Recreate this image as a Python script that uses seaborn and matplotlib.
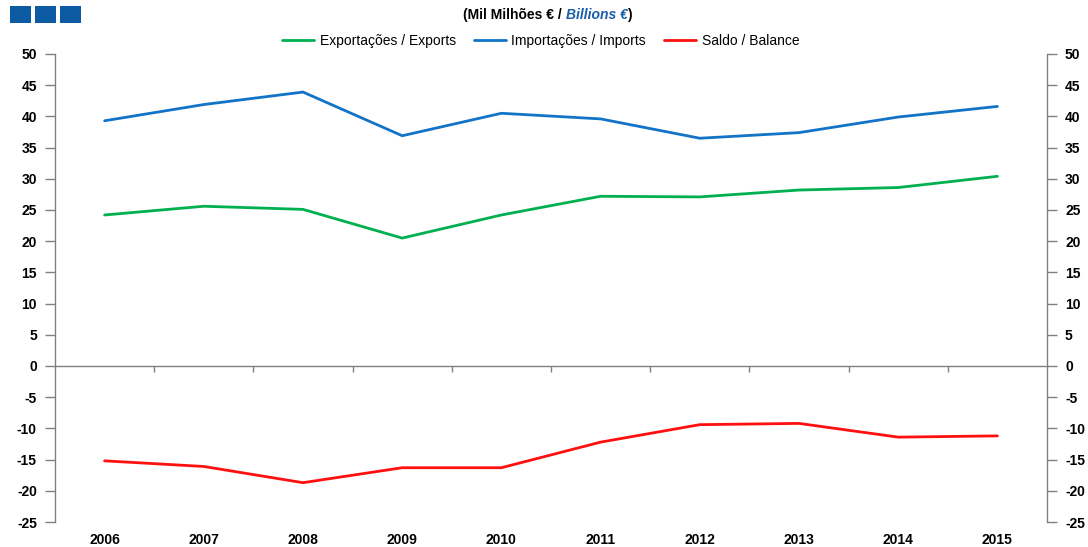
import pandas as pd
import matplotlib.pyplot as plt
import seaborn as sns
from matplotlib.patches import Rectangle

# Dados
years = [2006, 2007, 2008, 2009, 2010, 2011, 2012, 2013, 2014, 2015]
exports = [24.2, 25.6, 25.1, 20.5, 24.2, 27.2, 27.1, 28.2, 28.6, 30.4]
imports = [39.3, 41.9, 43.9, 36.9, 40.5, 39.6, 36.5, 37.4, 39.9, 41.6]
balance = [-15.2, -16.1, -18.7, -16.3, -16.3, -12.2, -9.4, -9.2, -11.4, -11.2]
labels = ['Exportações / Exports', 'Importações / Imports', 'Saldo / Balance']
colors = ['#00b050', '#1273c7', '#ff1010']
yticks = list(range(-25, 55, 5))

df = pd.DataFrame({'Ano': years * 3,
                   'Valor': exports + imports + balance,
                   'Serie': [labels[0]] * 10 + [labels[1]] * 10 + [labels[2]] * 10})

sns.set_style('white')
plt.rcParams['font.family'] = ['Liberation Sans', 'DejaVu Sans']
plt.rcParams['axes.unicode_minus'] = False
plt.rcParams['text.color'] = 'black'
plt.rcParams['xtick.color'] = 'black'
plt.rcParams['ytick.color'] = 'black'

fig = plt.figure(figsize=(10.88, 5.47), dpi=100)
ax = fig.add_axes([55 / 1088, 1 - 522 / 547, 992 / 1088, 468 / 547])

sns.lineplot(data=df, x='Ano', y='Valor', hue='Serie', hue_order=labels,
             palette=colors, linewidth=2, ax=ax, legend=True)

grey = '#808080'
ax.set_xlim(years[0] - 0.5, years[-1] + 0.5)
ax.set_ylim(-25, 50)
ax.set_yticks(yticks)
ax.set_xticks(years)
ax.set_xticklabels([str(y) for y in years], fontsize=10, fontweight='bold')
ax.set_xlabel('')
ax.set_ylabel('')
ax.tick_params(axis='x', length=0, pad=8, labelcolor='black')
ax.tick_params(axis='y', left=True, right=True, labelleft=True, labelright=True,
               length=7, width=1, color=grey, labelcolor='black', labelsize=10, pad=6)
for lab in ax.get_yticklabels():
    lab.set_fontweight('bold')

for side in ['top', 'bottom']:
    ax.spines[side].set_visible(False)
for side in ['left', 'right']:
    ax.spines[side].set_color(grey)
    ax.spines[side].set_linewidth(1)

# eixo do zero com marcas entre categorias
zero = ax.secondary_xaxis(25 / 75)
zero.set_xticks([y + 0.5 for y in years[:-1]])
zero.tick_params(axis='x', direction='out', length=4, width=1, color=grey, labelbottom=False)
zero.spines['bottom'].set_color(grey)
zero.spines['bottom'].set_linewidth(1)

# legenda no topo
handles, leg_labels = ax.get_legend_handles_labels()
ax.get_legend().remove()
fig.legend(handles, leg_labels, loc='center', bbox_to_anchor=(0.497, 1 - 41 / 547),
           ncol=3, frameon=False, fontsize=10, handlelength=2.3, columnspacing=1.3,
           handletextpad=0.4, labelcolor='black')

# título
t1 = fig.text(0.4255, 1 - 15 / 547, '(Mil Milhões € / ', fontsize=10, fontweight='bold',
              va='center', ha='left', color='black')
t2 = ax.annotate('Billions €', xy=(1, 0), xycoords=t1, va='bottom', fontsize=10,
                 fontweight='bold', fontstyle='italic', color='#1a5ea8')
ax.annotate(')', xy=(1, 0), xycoords=t2, va='bottom', fontsize=10, fontweight='bold',
            color='black')

# quadrados azuis
for x0 in [10, 35, 60]:
    fig.patches.append(Rectangle((x0 / 1088, 1 - 23 / 547), 21 / 1088, 17 / 547,
                                 transform=fig.transFigure, facecolor='#0b5aa2',
                                 edgecolor='none'))

plt.savefig('out.png', dpi=100)
